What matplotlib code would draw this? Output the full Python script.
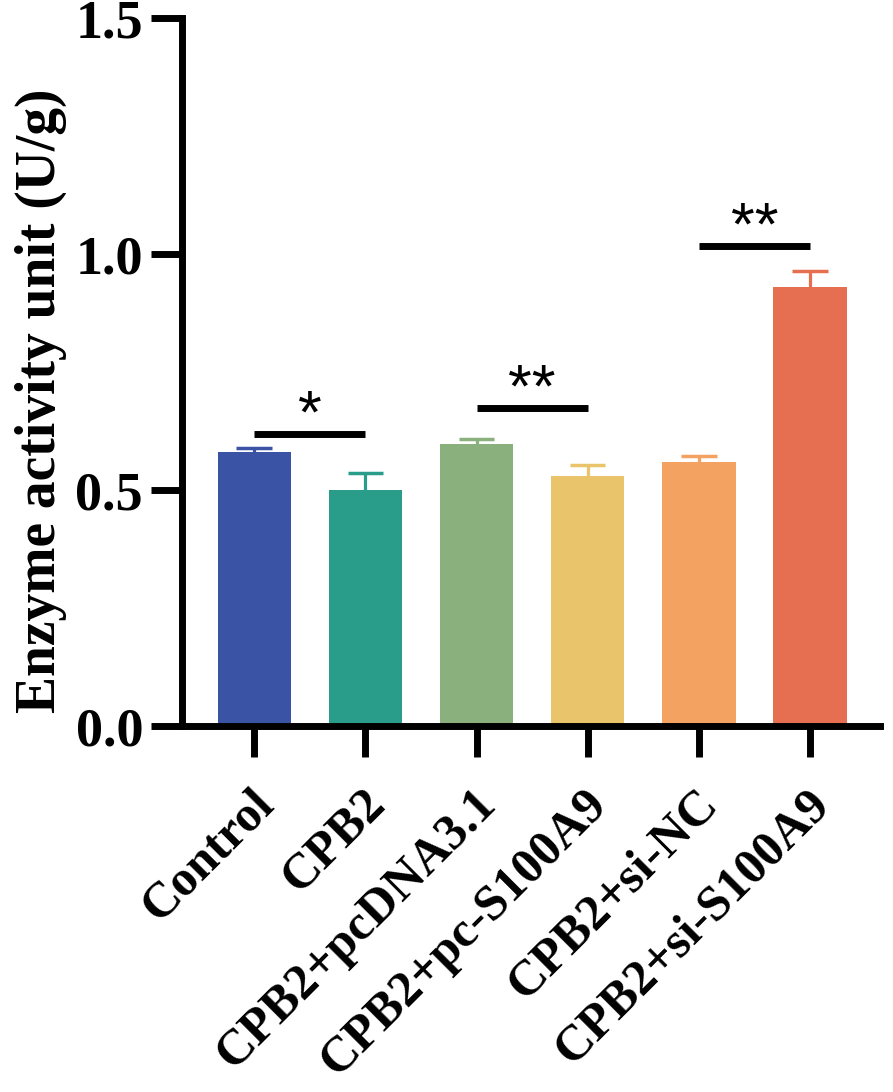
import numpy as np
import matplotlib
matplotlib.use('Agg')
import matplotlib.pyplot as plt
import matplotlib.transforms as mtransforms

groups = ['Control', 'CPB2', 'CPB2+pcDNA3.1', 'CPB2+pc-S100A9', 'CPB2+si-NC', 'CPB2+si-S100A9']
means = [0.580, 0.499, 0.597, 0.530, 0.560, 0.930]
errs = [0.010, 0.038, 0.010, 0.022, 0.012, 0.033]
colors = ['#3A53A4', '#2A9D8A', '#8AB17D', '#E9C46A', '#F3A261', '#E76F51']

# significance brackets: (left group, right group, height, label)
sig_pairs = [(0, 1, 0.618, '*'), (2, 3, 0.674, '**'), (4, 5, 1.016, '**')]

plt.rcParams['font.family'] = 'Liberation Serif'
plt.rcParams['font.weight'] = 'bold'

fig = plt.figure(figsize=(8.93, 10.92), dpi=100)
ax = fig.add_axes([182/893, 1-726/1092, (880-182)/893, (726-18)/1092])

x = np.arange(len(groups))
means = np.array(means)
errs = np.array(errs)
ax.bar(x, means, width=0.66, color=colors, zorder=2)
# upper error bars only
ax.vlines(x, means, means + errs, colors=colors, lw=2.3, zorder=1)
ax.hlines(means + errs, x - 0.16, x + 0.16, colors=colors, lw=2.5, zorder=1)

for a, b, h, lab in sig_pairs:
    ax.plot([x[a], x[b]], [h, h], color='black', lw=5, solid_capstyle='butt')
    ax.text((x[a] + x[b]) / 2, h + 0.004, lab, ha='center', va='baseline',
            fontsize=44, fontfamily='Liberation Sans', fontweight='normal')

ax.set_xlim(-0.65, 5.63)
ax.set_ylim(0, 1.5)
ax.set_yticks([0.0, 0.5, 1.0, 1.5])
ax.set_yticklabels(['0.0', '0.5', '1.0', '1.5'])
ax.set_xticks(x)
ax.set_xticklabels([])

# rotated group labels, placed a little right of and below each tick
offset = mtransforms.ScaledTranslation(9/72, -51/72, fig.dpi_scale_trans)
for i, g in enumerate(groups):
    ax.text(x[i], 0, g, transform=ax.get_xaxis_transform() + offset,
            rotation=45, ha='right', va='center', rotation_mode='anchor',
            fontsize=36, fontweight='bold')

for s in ['top', 'right']:
    ax.spines[s].set_visible(False)
for s in ['left', 'bottom']:
    ax.spines[s].set_linewidth(5)

ax.tick_params(axis='both', width=5, length=22, labelsize=39)
ax.tick_params(axis='y', pad=6)
ax.set_ylabel('Enzyme activity unit (U/g)', fontsize=40, fontweight='bold')
ax.yaxis.set_label_coords(-0.165, 0.46)

fig.savefig('out.png', dpi=100)
